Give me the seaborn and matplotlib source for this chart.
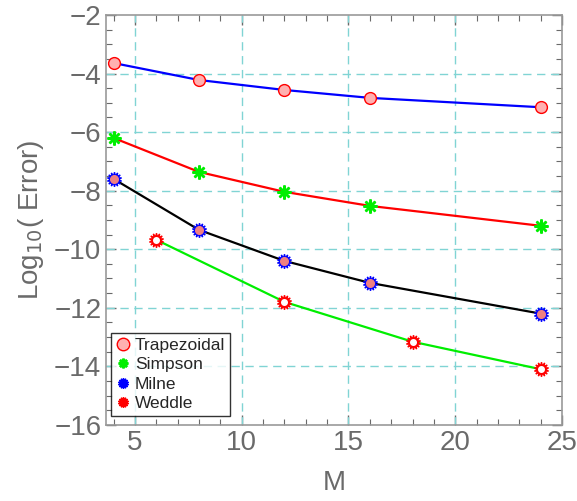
import pandas as pd
import matplotlib
matplotlib.use("Agg")
import matplotlib.pyplot as plt
from matplotlib.lines import Line2D
from matplotlib.ticker import MultipleLocator
import seaborn as sns

# Data: log10 of the error for each rule
m_trap = [4, 8, 12, 16, 24]
err_trap = [-3.64, -4.22, -4.56, -4.83, -5.15]

m_simp = [4, 8, 12, 16, 24]
err_simp = [-6.2, -7.36, -8.04, -8.52, -9.2]

m_milne = [4, 8, 12, 16, 24]
err_milne = [-7.6, -9.34, -10.4, -11.15, -12.2]

m_weddle = [6, 12, 18, 24]
err_weddle = [-9.68, -11.8, -13.16, -14.1]

labels = ["Trapezoidal", "Simpson", "Milne", "Weddle"]

sns.set_style("white")
plt.rcParams["font.family"] = ["Liberation Sans", "DejaVu Sans"]

fig = plt.figure(figsize=(5.77, 5.01), dpi=100)
ax = fig.add_axes([0.184, 0.152, 0.79, 0.818])

pink = "#ffb0b0"
gray = "#6a6a6a"

# Step 1: lines
sns.lineplot(x=m_trap, y=err_trap, color="blue", lw=1.6, ax=ax, zorder=3)
sns.lineplot(x=m_simp, y=err_simp, color="red", lw=1.6, ax=ax, zorder=3)
sns.lineplot(x=m_milne, y=err_milne, color="black", lw=1.6, ax=ax, zorder=3)
sns.lineplot(x=m_weddle, y=err_weddle, color="#00ee00", lw=1.6, ax=ax, zorder=3)

# Step 2: markers
ax.plot(m_trap, err_trap, ls="none", marker="o", ms=8.5, mfc=pink, mec="red", mew=1.0, zorder=5)
ax.plot(m_simp, err_simp, ls="none", marker=(8, 2, 0), ms=10, mec="#00ee00", mew=1.8, zorder=5)
ax.plot(m_milne, err_milne, ls="none", marker=(14, 1, 0), ms=10.5, mfc="blue", mec="blue", zorder=5)
ax.plot(m_milne, err_milne, ls="none", marker="o", ms=5.5, mfc="#f08080", mec="#f08080", zorder=6)
ax.plot(m_weddle, err_weddle, ls="none", marker=(14, 1, 0), ms=10.5, mfc="red", mec="red", zorder=5)
ax.plot(m_weddle, err_weddle, ls="none", marker="o", ms=4, mfc="white", mec="white", zorder=6)

# Step 3: axes, ticks, grid
ax.set_xlim(3.65, 25)
ax.set_ylim(-16, -2)
ax.xaxis.set_major_locator(MultipleLocator(5))
ax.xaxis.set_minor_locator(MultipleLocator(1))
ax.yaxis.set_major_locator(MultipleLocator(2))
ax.yaxis.set_minor_locator(MultipleLocator(0.5))
ax.tick_params(which="both", direction="in", top=True, right=True, color=gray,
               labelcolor=gray, labelsize=20, bottom=True, left=True)
ax.tick_params(which="major", length=7, width=1)
ax.tick_params(which="minor", length=4, width=0.8)
for s in ax.spines.values():
    s.set_color("#999999")
    s.set_linewidth(1.2)

for gx in [5, 10, 15, 20]:
    ax.axvline(gx, color="#80d4d4", ls=(0, (6, 4)), lw=1, zorder=1)
for gy in [-4, -6, -8, -10, -12, -14]:
    ax.axhline(gy, color="#80d4d4", ls=(0, (6, 4)), lw=1, zorder=1)

ax.set_xlabel("M", color=gray, fontsize=20, labelpad=10)
ax.set_ylabel("Log$_{10}$( Error)", color=gray, fontsize=20, labelpad=6)

# Step 4: legend with markers only
handles = [
    Line2D([], [], ls="none", marker="o", ms=9, mfc=pink, mec="red"),
    Line2D([], [], ls="none", marker=(8, 2, 0), ms=7, mec="#00ee00", mew=1.8),
    Line2D([], [], ls="none", marker=(14, 1, 0), ms=7.5, mfc="blue", mec="blue"),
    Line2D([], [], ls="none", marker=(14, 1, 0), ms=7.5, mfc="red", mec="red"),
]
leg = ax.legend(handles, labels, loc="lower left", bbox_to_anchor=(0.0, 0.01),
                fontsize=12.5, frameon=True, fancybox=False, handlelength=0.8,
                handletextpad=0.3, borderpad=0.25, labelspacing=0.25,
                borderaxespad=0.3)
leg.get_frame().set_edgecolor("black")
leg.get_frame().set_linewidth(1)

fig.savefig("out.png", dpi=100)
